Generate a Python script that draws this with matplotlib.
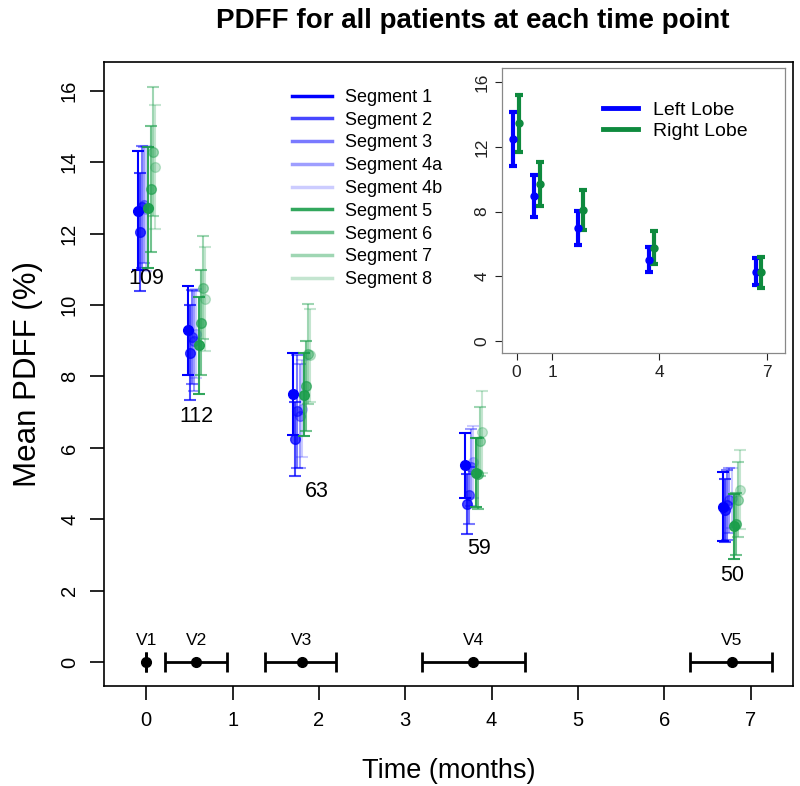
##############################################
# PDFF per liver segment at each time point  #
##############################################

import numpy as np
import matplotlib
matplotlib.use('Agg')
import matplotlib.pyplot as plt
from matplotlib.lines import Line2D
from matplotlib.colors import to_rgba

plt.rcParams['font.family'] = ['Liberation Sans', 'DejaVu Sans']

# -------------
# Data
# -------------
visit_labels = ['V1', 'V2', 'V3', 'V4', 'V5']
visit_time = [0.0, 0.58, 1.80, 3.79, 6.78]
visit_lo = [0.0, 0.22, 1.38, 3.19, 6.30]
visit_hi = [0.0, 0.94, 2.20, 4.39, 7.25]

n_patients = ['109', '112', '63', '59', '50']
n_x = [0.0, 0.58, 1.98, 3.85, 6.79]
n_y = [10.74, 6.88, 4.78, 3.19, 2.43]

segments = ['Segment 1', 'Segment 2', 'Segment 3', 'Segment 4a', 'Segment 4b',
            'Segment 5', 'Segment 6', 'Segment 7', 'Segment 8']
seg_mean = [
  [12.64, 9.29, 7.52, 5.51, 4.35],
  [12.04, 8.66, 6.24, 4.44, 4.25],
  [12.74, 9.10, 7.02, 4.67, 4.39],
  [12.80, 9.00, 6.90, 5.46, 4.53],
  [12.70, 9.20, 7.10, 5.60, 4.60],
  [12.72, 8.87, 7.49, 5.31, 3.80],
  [13.25, 9.50, 7.73, 5.28, 3.88],
  [14.29, 10.48, 8.63, 6.18, 4.55],
  [13.86, 10.17, 8.59, 6.44, 4.83],
]
seg_err = [
  [1.66, 1.24, 1.15, 0.91, 0.97],
  [1.65, 1.33, 1.04, 0.84, 0.89],
  [1.70, 1.32, 1.57, 0.80, 0.98],
  [1.62, 1.40, 1.45, 1.08, 0.90],
  [1.75, 1.25, 1.35, 1.00, 0.85],
  [1.69, 1.35, 1.17, 0.96, 0.90],
  [1.77, 1.47, 1.27, 1.00, 0.87],
  [1.80, 1.44, 1.40, 0.96, 1.05],
  [1.74, 1.45, 1.30, 1.14, 1.10],
]

# Lobe summary (inset)
left_mean = [12.50, 8.98, 6.98, 5.02, 4.29]
left_lo = [10.83, 7.69, 5.96, 4.23, 3.46]
left_hi = [14.17, 10.27, 8.02, 5.83, 5.15]
right_mean = [13.46, 9.73, 8.08, 5.77, 4.23]
right_lo = [11.70, 8.35, 6.88, 4.77, 3.27]
right_hi = [15.20, 11.10, 9.31, 6.77, 5.21]

# -------------
# Styles
# -------------
blue = '#0000ff'
green = '#1b9e4b'
lobe_green = '#0e8a3e'
seg_colors = [to_rgba(blue, 1.0), to_rgba(blue, 0.72), to_rgba(blue, 0.52),
              to_rgba(blue, 0.38), to_rgba(blue, 0.2),
              to_rgba(green, 0.9), to_rgba(green, 0.62), to_rgba(green, 0.42),
              to_rgba(green, 0.26)]
seg_offset = np.linspace(-0.1, 0.1, len(segments))

fig = plt.figure(figsize=(8.0, 7.86), dpi=100)
ax = fig.add_axes([0.13, 0.127, 0.861, 0.794])

# Segment error bars
for i in range(len(segments)):
  xs = np.array(visit_time) + seg_offset[i]
  ax.errorbar(xs, seg_mean[i], yerr=seg_err[i], fmt='o', color=seg_colors[i],
              ms=7, lw=1.5, capsize=4, capthick=1.5, zorder=2+i)

# Number of patients
for lab, x, y in zip(n_patients, n_x, n_y):
  ax.text(x, y, lab, ha='center', va='center', fontsize=15.5)

# Visit windows
xerr = [np.array(visit_time)-np.array(visit_lo), np.array(visit_hi)-np.array(visit_time)]
ax.errorbar(visit_time, np.zeros(len(visit_time)), xerr=xerr, fmt='o', color='k',
            ms=7, lw=2, capsize=7, capthick=2, zorder=20)
for lab, x in zip(visit_labels, visit_time):
  ax.text(x, 0.62, lab, ha='center', va='center', fontsize=12.5)

ax.set_xlim(-0.49, 7.49)
ax.set_ylim(-0.67, 16.8)
ax.set_xticks(range(0, 8))
ax.set_yticks(range(0, 17, 2))
ax.tick_params(axis='both', direction='out', length=10, width=1.2, labelsize=14.5, pad=8)
for lab in ax.get_yticklabels():
  lab.set_rotation(90)
  lab.set_va('center')
for sp in ax.spines.values():
  sp.set_linewidth(1.2)

ax.set_xlabel('Time (months)', fontsize=19.5, labelpad=20)
ax.set_ylabel('Mean PDFF (%)', fontsize=22.5, labelpad=12)
fig.text(0.591, 0.973, 'PDFF for all patients at each time point', ha='center',
         va='center', fontsize=20, fontweight='bold')

handles = [Line2D([0], [0], color=c, lw=2.5) for c in seg_colors]
ax.legend(handles, segments, loc='upper left', bbox_to_anchor=(0.273, 0.957),
          frameon=False, fontsize=13, handlelength=2.2, handletextpad=0.72,
          labelspacing=0.32, borderpad=0, borderaxespad=0)

# -------------
# Inset
# -------------
ins = fig.add_axes([0.6275, 0.551, 0.354, 0.3626])
ins.errorbar(np.array(visit_time)-0.09, left_mean,
             yerr=[np.array(left_mean)-np.array(left_lo), np.array(left_hi)-np.array(left_mean)],
             fmt='o', color=blue, ms=5, lw=3, capsize=3, capthick=3)
ins.errorbar(np.array(visit_time)+0.07, right_mean,
             yerr=[np.array(right_mean)-np.array(right_lo), np.array(right_hi)-np.array(right_mean)],
             fmt='o', color=lobe_green, ms=5, lw=3, capsize=3, capthick=3)
ins.set_xlim(-0.41, 7.52)
ins.set_ylim(-0.75, 16.9)
ins.set_xticks([0, 1, 4, 7])
ins.set_yticks([0, 4, 8, 12, 16])
ins.tick_params(axis='both', direction='out', length=5, width=0.8, labelsize=12.5,
                colors='#222222', pad=4)
for lab in ins.get_yticklabels():
  lab.set_rotation(90)
  lab.set_va('center')
for sp in ins.spines.values():
  sp.set_color('#888888')
  sp.set_linewidth(0.9)

lobe_handles = [Line2D([0], [0], color=blue, lw=3.5), Line2D([0], [0], color=lobe_green, lw=3.5)]
ins.legend(lobe_handles, ['Left Lobe', 'Right Lobe'], loc='upper left',
           bbox_to_anchor=(0.357, 0.884), frameon=False, fontsize=14,
           handlelength=1.8, handletextpad=0.77, labelspacing=0.19,
           borderpad=0, borderaxespad=0)

fig.savefig('out.png', dpi=100)
plt.close()
